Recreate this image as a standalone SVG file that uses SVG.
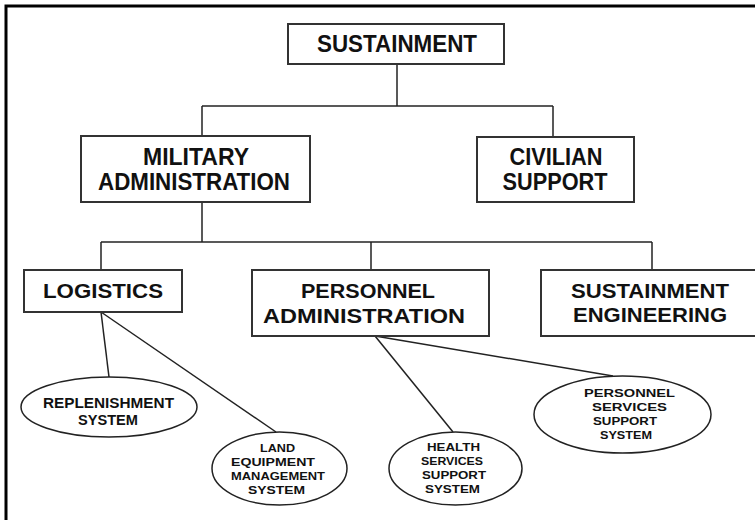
<svg xmlns="http://www.w3.org/2000/svg" width="755" height="520" viewBox="0 0 755 520">
<style>
.box{fill:#fff;stroke:#333;stroke-width:2}
.ell{fill:#fff;stroke:#222;stroke-width:1.5}
.t{font-family:"Liberation Sans",Arial,sans-serif;font-weight:bold;fill:#111;text-anchor:middle}
.big{font-size:23px}
.mid{font-size:21px}
.sm{font-size:14px}
.xs{font-size:11.5px}
.c line{stroke:#222;stroke-width:1.5}
</style>
<rect x="0" y="0" width="755" height="520" fill="#fff"/>
<path d="M6,520 V6 H755" fill="none" stroke="#000" stroke-width="3"/>
<g class="c" id="connectors">
<line x1="397" y1="64" x2="397" y2="106"/>
<line x1="202" y1="106" x2="553" y2="106"/>
<line x1="202" y1="106" x2="202" y2="136"/>
<line x1="553" y1="106" x2="553" y2="137"/>
<line x1="202" y1="202" x2="202" y2="242"/>
<line x1="101" y1="242" x2="652" y2="242"/>
<line x1="101" y1="242" x2="101" y2="270"/>
<line x1="371" y1="242" x2="371" y2="270"/>
<line x1="652" y1="242" x2="652" y2="270"/>
<line x1="101" y1="312" x2="109" y2="377"/>
<line x1="101" y1="312" x2="276" y2="432"/>
<line x1="375" y1="336" x2="453" y2="432"/>
<line x1="375" y1="336" x2="613" y2="376"/>
</g>
<g id="sustainment">
<rect class="box" x="288" y="24" width="216" height="40"/>
<text class="t big" x="397" y="52" textLength="160" lengthAdjust="spacingAndGlyphs">SUSTAINMENT</text>
</g>
<g id="military-administration">
<rect class="box" x="81" y="136" width="229" height="66"/>
<text class="t big" x="196" y="165" textLength="106" lengthAdjust="spacingAndGlyphs">MILITARY</text>
<text class="t big" x="194" y="190" textLength="192" lengthAdjust="spacingAndGlyphs">ADMINISTRATION</text>
</g>
<g id="civilian-support">
<rect class="box" x="477" y="137" width="157" height="65"/>
<text class="t big" x="556" y="165" textLength="93" lengthAdjust="spacingAndGlyphs">CIVILIAN</text>
<text class="t big" x="555" y="190" textLength="105" lengthAdjust="spacingAndGlyphs">SUPPORT</text>
</g>
<g id="logistics">
<rect class="box" x="24" y="270" width="158" height="42"/>
<text class="t mid" x="103" y="298" textLength="120" lengthAdjust="spacingAndGlyphs">LOGISTICS</text>
</g>
<g id="personnel-administration">
<rect class="box" x="252" y="270" width="237" height="66"/>
<text class="t mid" x="368" y="298" textLength="134" lengthAdjust="spacingAndGlyphs">PERSONNEL</text>
<text class="t mid" x="364" y="323" textLength="202" lengthAdjust="spacingAndGlyphs">ADMINISTRATION</text>
</g>
<g id="sustainment-engineering">
<rect class="box" x="541" y="270" width="240" height="66"/>
<text class="t mid" x="650" y="298" textLength="158" lengthAdjust="spacingAndGlyphs">SUSTAINMENT</text>
<text class="t mid" x="650" y="322" textLength="154" lengthAdjust="spacingAndGlyphs">ENGINEERING</text>
</g>
<g id="replenishment-system">
<ellipse class="ell" cx="109" cy="407" rx="88" ry="30"/>
<text class="t sm" x="108.5" y="408" textLength="131" lengthAdjust="spacingAndGlyphs">REPLENISHMENT</text>
<text class="t sm" x="108" y="425" textLength="60" lengthAdjust="spacingAndGlyphs">SYSTEM</text>
</g>
<g id="land-equipment-management-system">
<ellipse class="ell" cx="279.5" cy="468.5" rx="67.5" ry="36.5"/>
<text class="t xs" x="277.5" y="452" textLength="35" lengthAdjust="spacingAndGlyphs">LAND</text>
<text class="t xs" x="273" y="466" textLength="84" lengthAdjust="spacingAndGlyphs">EQUIPMENT</text>
<text class="t xs" x="278" y="480" textLength="94" lengthAdjust="spacingAndGlyphs">MANAGEMENT</text>
<text class="t xs" x="276.5" y="494" textLength="57" lengthAdjust="spacingAndGlyphs">SYSTEM</text>
</g>
<g id="health-services-support-system">
<ellipse class="ell" cx="455.5" cy="468.5" rx="66.5" ry="36.5"/>
<text class="t xs" x="453.5" y="451" textLength="53" lengthAdjust="spacingAndGlyphs">HEALTH</text>
<text class="t xs" x="452" y="465" textLength="62" lengthAdjust="spacingAndGlyphs">SERVICES</text>
<text class="t xs" x="454" y="479" textLength="64" lengthAdjust="spacingAndGlyphs">SUPPORT</text>
<text class="t xs" x="452.5" y="493" textLength="55" lengthAdjust="spacingAndGlyphs">SYSTEM</text>
</g>
<g id="personnel-services-support-system">
<ellipse class="ell" cx="622.5" cy="414.5" rx="88.5" ry="38.5"/>
<text class="t xs" x="629.5" y="397" textLength="91" lengthAdjust="spacingAndGlyphs">PERSONNEL</text>
<text class="t xs" x="629.5" y="411" textLength="75" lengthAdjust="spacingAndGlyphs">SERVICES</text>
<text class="t xs" x="625" y="425" textLength="64" lengthAdjust="spacingAndGlyphs">SUPPORT</text>
<text class="t xs" x="626" y="439" textLength="52" lengthAdjust="spacingAndGlyphs">SYSTEM</text>
</g>
</svg>
